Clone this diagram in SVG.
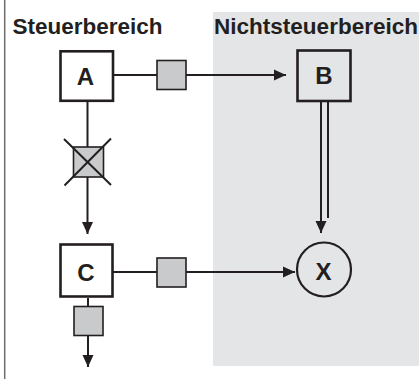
<svg xmlns="http://www.w3.org/2000/svg" width="419" height="381" viewBox="0 0 419 381">
<defs>
<style>
.title{font-family:"Liberation Sans",Arial,sans-serif;font-weight:bold;font-size:21.5px;fill:#231f20}
.lbl{font-family:"Liberation Sans",Arial,sans-serif;font-weight:bold;font-size:24px;fill:#231f20;text-anchor:middle}
.box{fill:#ffffff;stroke:#231f20;stroke-width:2.6}
.boxg{fill:none;stroke:#231f20;stroke-width:2.6}
.ln{fill:none;stroke:#231f20;stroke-width:2}
.gate{fill:#c9cacc;stroke:#231f20;stroke-width:1.6}
</style>
<marker id="ah" viewBox="0 0 12 12" refX="12" refY="6" markerWidth="12" markerHeight="12" markerUnits="userSpaceOnUse" orient="auto">
<path d="M0,0.5 L12,6 L0,11.5 Z" fill="#231f20"/>
</marker>
</defs>
<rect x="0" y="0" width="419" height="381" fill="#ffffff"/>
<rect x="213" y="12" width="206" height="354" fill="#e4e5e7"/>
<line x1="4.7" y1="0" x2="4.7" y2="379" stroke="#6d6e70" stroke-width="1.5"/>
<text class="title" x="12.5" y="34" textLength="150" lengthAdjust="spacingAndGlyphs">Steuerbereich</text>
<text class="title" x="214" y="34" textLength="204" lengthAdjust="spacingAndGlyphs">Nichtsteuerbereich</text>
<g id="connectors">
<path class="ln" d="M113,75 L286,75" marker-end="url(#ah)"/>
<path class="ln" d="M87.5,102 L87.5,234" marker-end="url(#ah)"/>
<path class="ln" d="M321,102 L321,233" marker-end="url(#ah)"/>
<path class="ln" d="M328,102 L328,218"/>
<path class="ln" d="M113,272 L295,272" marker-end="url(#ah)"/>
<path class="ln" d="M88,298 L88,367" marker-end="url(#ah)"/>
<rect class="gate" x="157" y="60.5" width="29" height="29"/>
<rect class="gate" x="157" y="258" width="29" height="29"/>
<rect class="gate" x="74" y="306.5" width="29" height="29"/>
<g id="blocked">
<rect class="gate" x="73.5" y="147" width="30" height="30"/>
<line x1="64" y1="139" x2="111" y2="185" stroke="#231f20" stroke-width="2"/>
<line x1="111" y1="138.5" x2="64.5" y2="185.5" stroke="#231f20" stroke-width="2"/>
</g>
</g>
<g id="node-A">
<rect class="box" x="60.5" y="51.3" width="52.5" height="49.5"/>
<text class="lbl" x="85.5" y="85">A</text>
</g>
<g id="node-B">
<rect class="boxg" x="297.5" y="50.5" width="53" height="50.5"/>
<text class="lbl" x="324" y="83.5">B</text>
</g>
<g id="node-C">
<rect class="box" x="60.5" y="244.5" width="52" height="52"/>
<text class="lbl" x="86" y="280.5">C</text>
</g>
<g id="node-X">
<circle cx="324" cy="269.5" r="27" fill="none" stroke="#231f20" stroke-width="2.2"/>
<text class="lbl" x="323.5" y="279.5">X</text>
</g>
</svg>
